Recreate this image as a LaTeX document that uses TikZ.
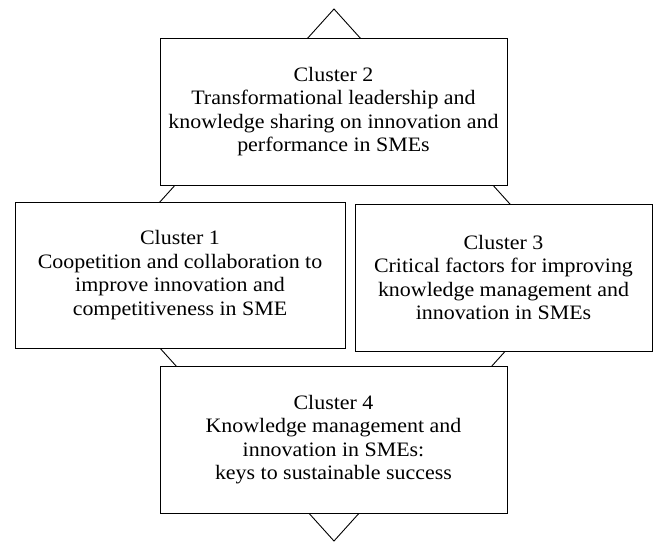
\documentclass[tikz,border=0pt]{standalone}
\usepackage{fontspec}
\setmainfont[FakeStretch=1.07]{Liberation Serif}
\usetikzlibrary{positioning}

\tikzset{
  cluster/.style={draw, fill=white, line width=0.9pt, align=center,
    font=\fontsize{20.5}{23.6}\selectfont, inner sep=2pt},
  link/.style={line width=0.9pt}
}

\begin{document}
\begin{tikzpicture}[x=1pt, y=-1pt]

    \useasboundingbox (0,0) rectangle (654,542);

    %define the diamond corners
    \coordinate (top) at (334,9);
    \coordinate (right) at (574,275);
    \coordinate (bottom) at (334,541);
    \coordinate (left) at (94,275);

    %define the links
    \draw[link] (top) -- (right) -- (bottom) -- (left) -- cycle;

    %define the clusters
    \node[cluster, minimum width=347pt, minimum height=147pt] (c2) at (333.5,111.5)
        {Cluster 2\\Transformational leadership and\\knowledge sharing on innovation and\\performance in SMEs};
    \node[cluster, minimum width=330pt, minimum height=146pt] (c1) at (180,275)
        {Cluster 1\\Coopetition and collaboration to\\improve innovation and\\competitiveness in SME};
    \node[cluster, minimum width=297pt, minimum height=147pt] (c3) at (503.5,277.5)
        {Cluster 3\\Critical factors for improving\\knowledge management and\\innovation in SMEs};
    \node[cluster, minimum width=347pt, minimum height=147pt] (c4) at (333.5,439.5)
        {Cluster 4\\Knowledge management and\\innovation in SMEs:\\keys to sustainable success};

\end{tikzpicture}
\end{document}
